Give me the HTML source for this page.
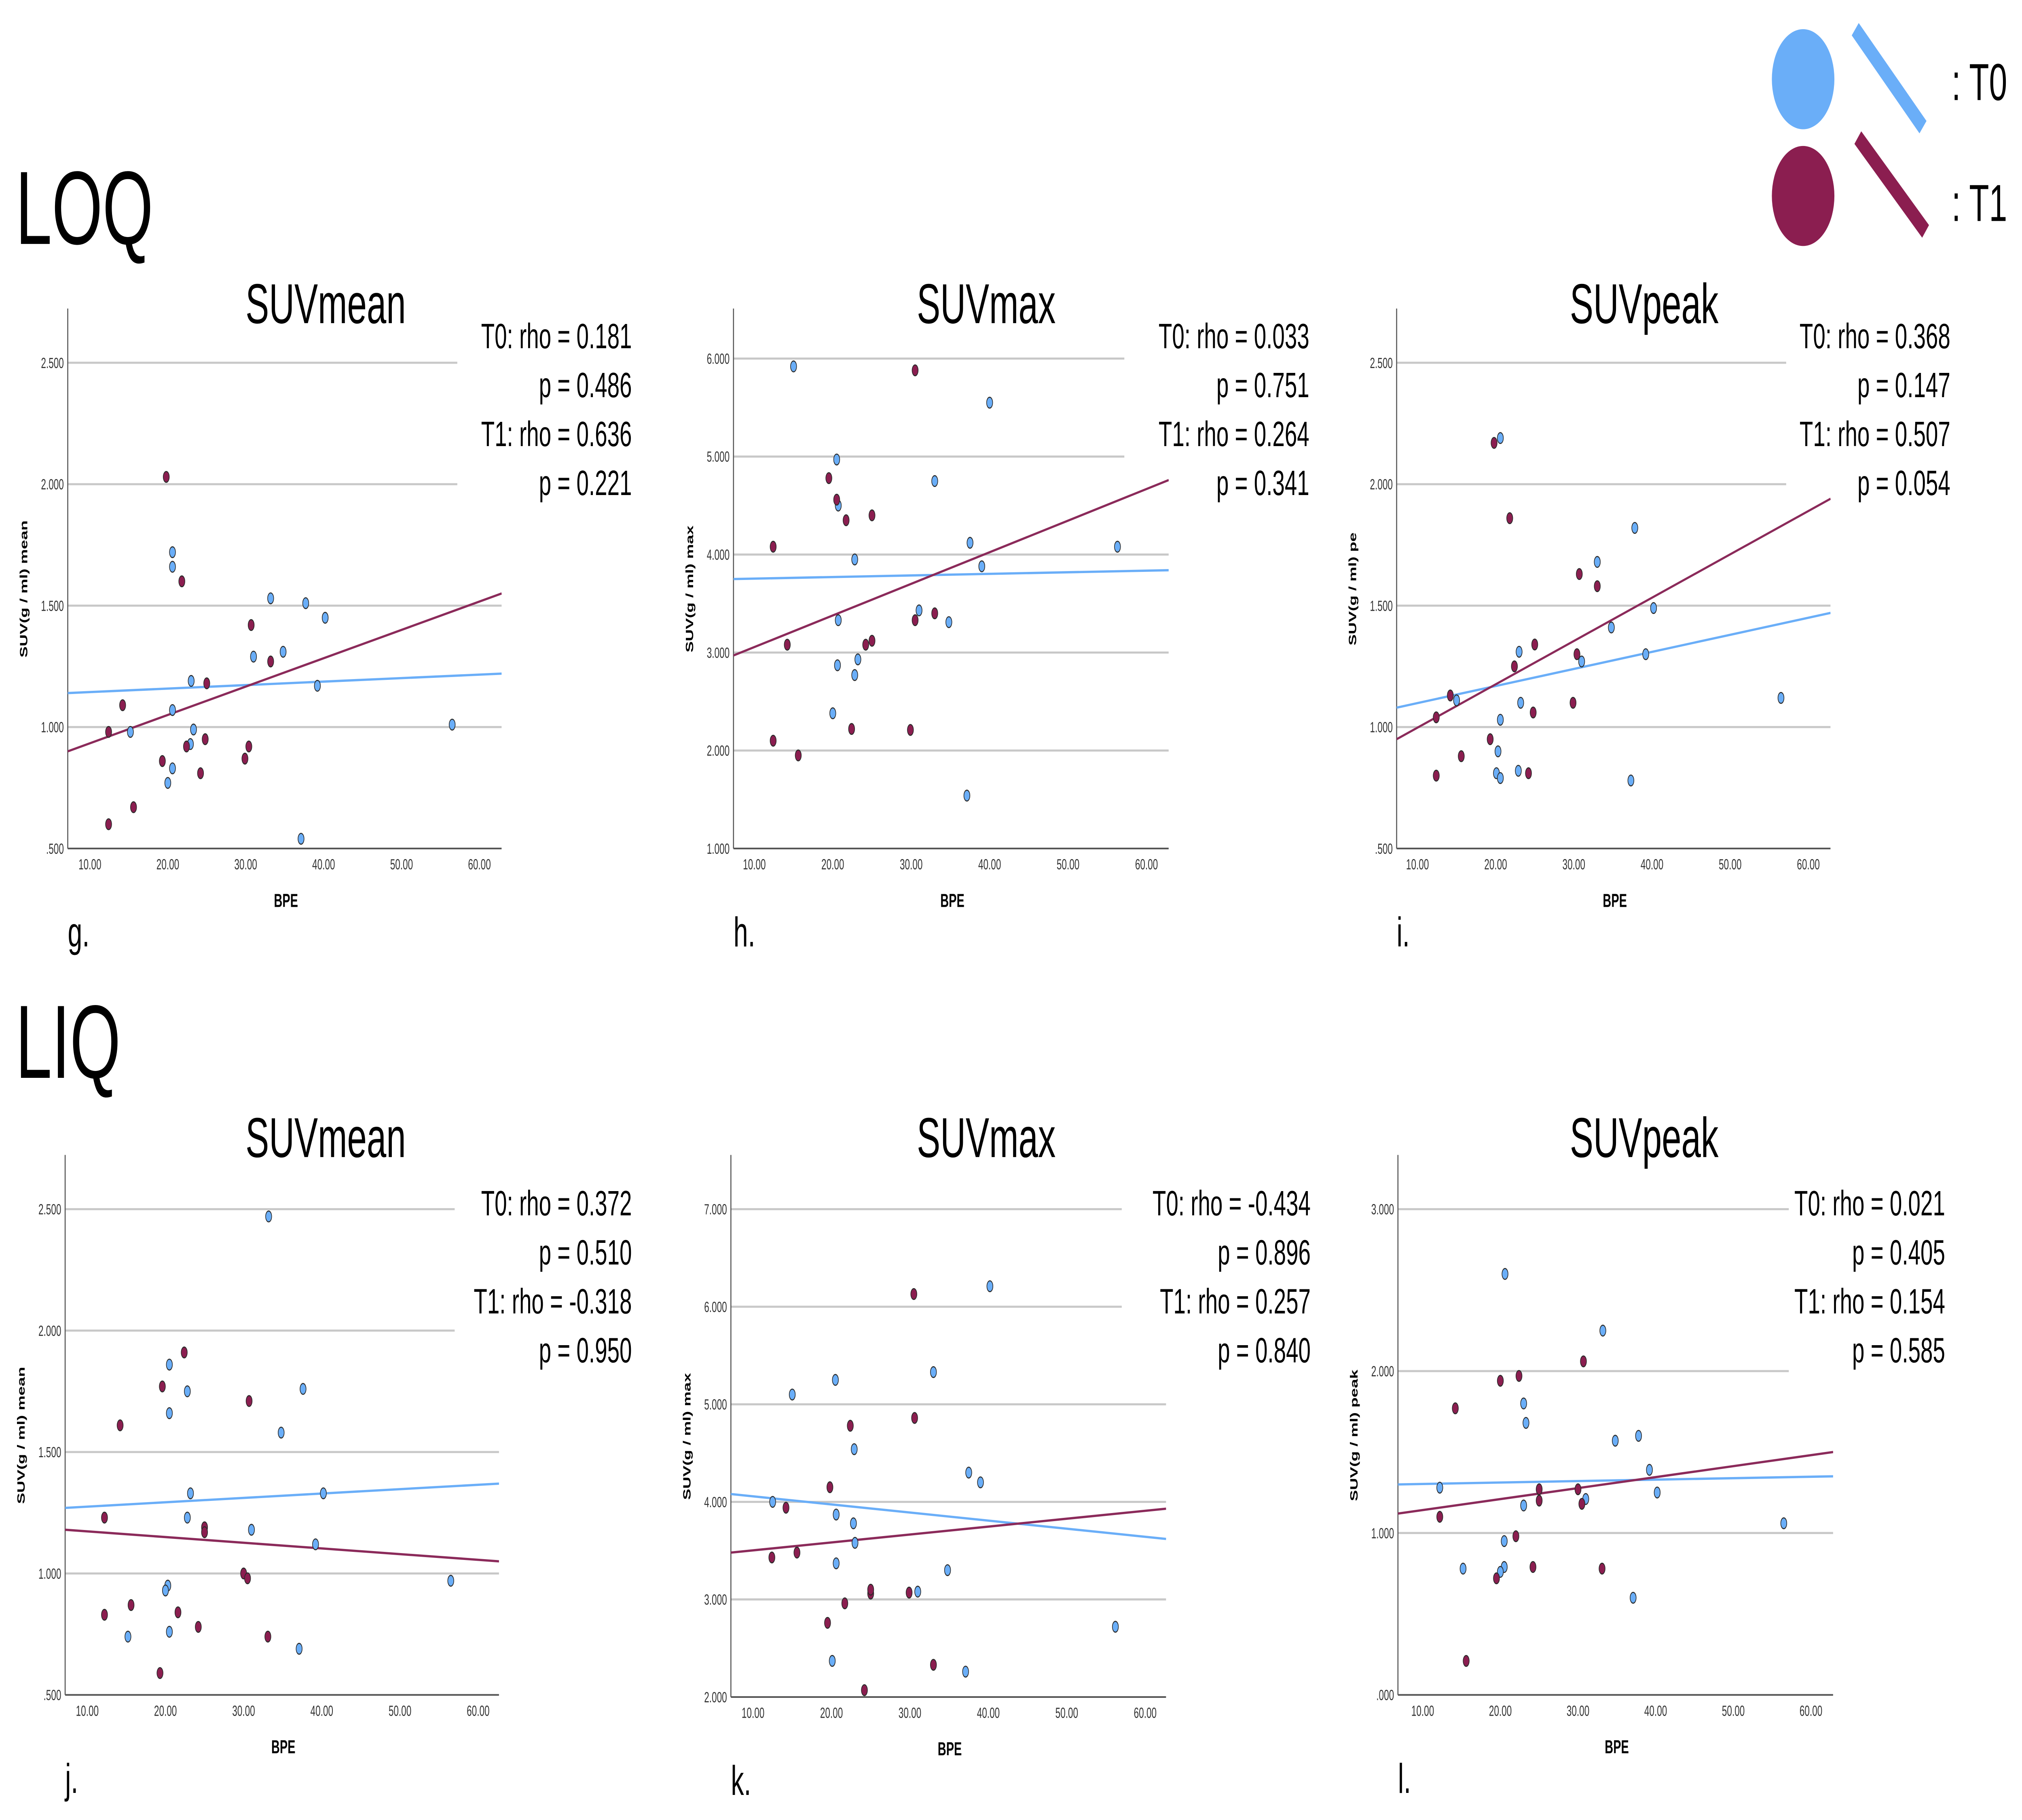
<!DOCTYPE html>
<html><head><meta charset="utf-8"><style>
html,body{margin:0;padding:0;background:#fff;width:100%;height:100%;overflow:hidden;}
svg{display:block;width:100vw;height:100vh;}
</style></head><body>
<svg id="fig" xmlns="http://www.w3.org/2000/svg" viewBox="0 0 1552 873" preserveAspectRatio="none" font-family="Liberation Sans, sans-serif">
<rect x="0" y="0" width="1552" height="873" fill="#fff"/>
<text x="12" y="117" font-size="50" fill="#000">LOQ</text>
<text x="12" y="517" font-size="50" fill="#000">LIQ</text>
<g>
<circle cx="1384" cy="38" r="24" fill="#6aaef8"/>
<line x1="1424" y1="14" x2="1476" y2="61" stroke="#6aaef8" stroke-width="8"/>
<text x="1498" y="48" font-size="25">: T0</text>
<circle cx="1384" cy="94" r="24" fill="#8b1e50"/>
<line x1="1426" y1="66" x2="1478" y2="111" stroke="#8b1e50" stroke-width="8"/>
<text x="1498" y="106" font-size="25">: T1</text>
</g>
</svg>
<script>
// ---- data (BPE, SUV) ----
const g_t0 = [[20.6,1.72],[20.6,1.66],[23,1.19],[33.2,1.53],[37.7,1.51],[40.2,1.45],[31,1.29],[34.8,1.31],[39.2,1.17],[20.6,1.07],[15.2,0.98],[23.3,0.99],[22.9,0.93],[20.6,0.83],[20,0.77],[37.1,0.54],[56.5,1.01]];
const g_t1 = [[19.8,2.03],[21.8,1.60],[30.7,1.42],[33.2,1.27],[25,1.18],[14.2,1.09],[12.4,0.98],[24.8,0.95],[30.4,0.92],[22.4,0.92],[19.3,0.86],[29.9,0.87],[24.2,0.81],[15.6,0.67],[12.4,0.60]];
const g_fit_t0 = [1.14,1.22];
const g_fit_t1 = [0.90,1.55];
const h_t0 = [[15,5.92],[20.5,4.97],[20.7,4.5],[33,4.75],[40,5.55],[37.5,4.12],[39,3.88],[22.8,3.95],[56.3,4.08],[20.7,3.33],[31,3.43],[34.8,3.31],[23.2,2.93],[22.8,2.77],[20.6,2.87],[20,2.38],[37.1,1.54]];
const h_t1 = [[30.5,5.88],[19.5,4.78],[20.5,4.56],[21.7,4.35],[25,4.4],[12.4,4.08],[14.2,3.08],[24.2,3.08],[25,3.12],[30.5,3.33],[33,3.4],[12.4,2.1],[15.6,1.95],[22.4,2.22],[29.9,2.21]];
const h_fit_t0 = [3.75,3.84];
const h_fit_t1 = [2.97,4.76];
const i_t0 = [[20.6,2.19],[37.8,1.82],[33,1.68],[40.2,1.49],[34.8,1.41],[39.2,1.3],[31,1.27],[23,1.31],[23.2,1.1],[15,1.11],[20.6,1.03],[20.3,0.9],[22.9,0.82],[20.1,0.81],[20.6,0.79],[37.3,0.78],[56.5,1.12]];
const i_t1 = [[19.8,2.17],[21.8,1.86],[30.7,1.63],[33,1.58],[25,1.34],[22.4,1.25],[30.4,1.3],[29.9,1.1],[24.8,1.06],[14.2,1.13],[12.4,1.04],[19.3,0.95],[15.6,0.88],[12.4,0.8],[24.2,0.81]];
const i_fit_t0 = [1.08,1.47];
const i_fit_t1 = [0.95,1.94];
const j_t0 = [[33.2,2.47],[20.5,1.86],[22.8,1.75],[20.5,1.66],[37.6,1.76],[34.8,1.58],[23.2,1.33],[40.2,1.33],[22.8,1.23],[31,1.18],[39.2,1.12],[20.3,0.95],[20,0.93],[20.5,0.76],[15.2,0.74],[37.1,0.69],[56.5,0.97]];
const j_t1 = [[22.4,1.91],[19.6,1.77],[30.7,1.71],[14.2,1.61],[25,1.19],[25,1.17],[30,1.0],[30.5,0.98],[12.2,1.23],[15.6,0.87],[12.2,0.83],[21.6,0.84],[24.2,0.78],[33.1,0.74],[19.3,0.59]];
const j_fit_t0 = [1.27,1.37];
const j_fit_t1 = [1.18,1.05];
const k_t0 = [[40.2,6.21],[33,5.33],[20.5,5.25],[15,5.1],[22.9,4.54],[37.5,4.3],[39,4.2],[20.6,3.87],[22.8,3.78],[12.5,4.0],[23,3.58],[20.6,3.37],[34.8,3.3],[31,3.08],[56.2,2.72],[20.1,2.37],[37.1,2.26]];
const k_t1 = [[30.5,6.13],[22.4,4.78],[30.6,4.86],[19.8,4.15],[14.2,3.94],[12.4,3.43],[15.6,3.48],[19.5,2.76],[21.7,2.96],[25,3.06],[25,3.1],[29.9,3.07],[33,2.33],[24.2,2.07]];
const k_fit_t0 = [4.08,3.62];
const k_fit_t1 = [3.48,3.93];
const l_t0 = [[20.6,2.6],[33.2,2.25],[23,1.8],[23.3,1.68],[37.8,1.6],[34.8,1.57],[39.2,1.39],[40.2,1.25],[31,1.21],[23,1.17],[20.5,0.95],[20.5,0.79],[20,0.76],[15.2,0.78],[37.1,0.6],[12.2,1.28],[56.5,1.06]];
const l_t1 = [[20,1.94],[22.4,1.97],[30.7,2.06],[14.2,1.77],[30,1.27],[30.5,1.18],[25,1.2],[25,1.27],[22,0.98],[12.2,1.1],[19.5,0.72],[24.2,0.79],[33.1,0.78],[15.6,0.21]];
const l_fit_t0 = [1.30,1.35];
const l_fit_t1 = [1.12,1.50];
const xTickLabels = ["10.00","20.00","30.00","40.00","50.00","60.00"];
const xTicks = [10,20,30,40,50,60];
const yTicksMean = [0.5,1,1.5,2,2.5];
const yTickLabelsMean = [".500","1.000","1.500","2.000","2.500"];
const yTicksMaxTop = [1,2,3,4,5,6];
const yTickLabelsMaxTop = ["1.000","2.000","3.000","4.000","5.000","6.000"];
const yTicksMaxBot = [2,3,4,5,6,7];
const yTickLabelsMaxBot = ["2.000","3.000","4.000","5.000","6.000","7.000"];
const yTicksPeakBot = [0,1,2,3];
const yTickLabelsPeakBot = [".000","1.000","2.000","3.000"];
const statsG = ["T0: rho = 0.181","p = 0.486","T1: rho = 0.636","p = 0.221"];
const statsH = ["T0: rho = 0.033","p = 0.751","T1: rho = 0.264","p = 0.341"];
const statsI = ["T0: rho = 0.368","p = 0.147","T1: rho = 0.507","p = 0.054"];
const statsJ = ["T0: rho = 0.372","p = 0.510","T1: rho = -0.318","p = 0.950"];
const statsK = ["T0: rho = -0.434","p = 0.896","T1: rho = 0.257","p = 0.840"];
const statsL = ["T0: rho = 0.021","p = 0.405","T1: rho = 0.154","p = 0.585"];

const NS = "http://www.w3.org/2000/svg";
const svg = document.getElementById('fig');
function mk(tag, attrs, parent){const e=document.createElementNS(NS,tag);for(const k in attrs)e.setAttribute(k,attrs[k]);parent.appendChild(e);return e;}

const panels = [
 {id:'g',title:'SUVmean',letter:'g.',ylab:'SUV(g / ml) mean',ax:52,ar:385,top:148,bot:407,x10:69,x60:368,yv:[0.5,2.5],yp:[407,174],ticks:yTicksMean,tl:yTickLabelsMean,t0:g_t0,t1:g_t1,f0:g_fit_t0,f1:g_fit_t1,stats:statsG,sx:485,sy:161,ty:155,tx:250,statB:240},
 {id:'h',title:'SUVmax',letter:'h.',ylab:'SUV(g / ml) max',ax:563,ar:897,top:148,bot:407,x10:579,x60:880,yv:[1,6],yp:[407,172],ticks:yTicksMaxTop,tl:yTickLabelsMaxTop,t0:h_t0,t1:h_t1,f0:h_fit_t0,f1:h_fit_t1,stats:statsH,sx:1005,sy:161,ty:155,tx:757,statB:240},
 {id:'i',title:'SUVpeak',letter:'i.',ylab:'SUV(g / ml) pe',ax:1072,ar:1405,top:148,bot:407,x10:1088,x60:1388,yv:[0.5,2.5],yp:[407,174],ticks:yTicksMean,tl:yTickLabelsMean,t0:i_t0,t1:i_t1,f0:i_fit_t0,f1:i_fit_t1,stats:statsI,sx:1497,sy:161,ty:155,tx:1262,statB:240},
 {id:'j',title:'SUVmean',letter:'j.',ylab:'SUV(g / ml) mean',ax:50,ar:383,top:554,bot:813,x10:67,x60:367,yv:[0.5,2.5],yp:[813,580],ticks:yTicksMean,tl:yTickLabelsMean,t0:j_t0,t1:j_t1,f0:j_fit_t0,f1:j_fit_t1,stats:statsJ,sx:485,sy:577,ty:555,tx:250,statB:655},
 {id:'k',title:'SUVmax',letter:'k.',ylab:'SUV(g / ml) max',ax:561,ar:895,top:554,bot:814,x10:578,x60:879,yv:[2,7],yp:[814,580],ticks:yTicksMaxBot,tl:yTickLabelsMaxBot,t0:k_t0,t1:k_t1,f0:k_fit_t0,f1:k_fit_t1,stats:statsK,sx:1006,sy:577,ty:555,tx:757,statB:655},
 {id:'l',title:'SUVpeak',letter:'l.',ylab:'SUV(g / ml) peak',ax:1073,ar:1407,top:554,bot:813,x10:1092,x60:1390,yv:[0,3],yp:[813,580],ticks:yTicksPeakBot,tl:yTickLabelsPeakBot,t0:l_t0,t1:l_t1,f0:l_fit_t0,f1:l_fit_t1,stats:statsL,sx:1493,sy:577,ty:555,tx:1262,statB:655}
];

panels.forEach(p=>{
  const X = v => p.x10 + (v-10)*(p.x60-p.x10)/50;
  const Y = v => p.yp[0] + (v-p.yv[0])*(p.yp[1]-p.yp[0])/(p.yv[1]-p.yv[0]);
  const Xinv = px => 10 + (px-p.x10)*50/(p.x60-p.x10);
  const g = mk('g',{},svg);
  
  
  p.ticks.forEach((t,idx)=>{
    const y=Y(t);
    const right = (y < p.statB+12) ? p.ar-34 : p.ar;
    if(idx>0){
      const gl=mk('line',{x1:p.ax,y1:y,x2:right,y2:y,stroke:'#c8c8c8','stroke-width':1},g);
      
      
    }
    const tl=mk('text',{x:p.ax-3,y:y+2.5,'font-size':7,'text-anchor':'end',fill:'#333'},g);
    
    
    tl.textContent=p.tl[idx];
  });
  const ya=mk('line',{x1:p.ax,y1:p.top,x2:p.ax,y2:p.bot,stroke:'#555','stroke-width':0.8},g);
  
  
  const xa=mk('line',{x1:p.ax,y1:p.bot,x2:p.ar,y2:p.bot,stroke:'#555','stroke-width':0.8},g);
  
  
  xTicks.forEach((t,idx)=>{
    const tl=mk('text',{x:X(t),y:p.bot+10,'font-size':7,'text-anchor':'middle',fill:'#333'},g);
    
    
    tl.textContent=xTickLabels[idx];
  });
  const xt=mk('text',{x:(p.ax+p.ar)/2+1,y:p.bot+28,'font-size':9,'font-weight':'bold','text-anchor':'middle'},g);
  
  
  xt.textContent='BPE';
  const cy=(p.top+p.bot)/2+5;
  const yt=mk('text',{x:0,y:0,'font-size':8,'font-weight':'bold','text-anchor':'middle',transform:`translate(${p.ax-31},${cy}) rotate(-90)`},g);
  
  
  yt.textContent=p.ylab;
  const ti=mk('text',{x:p.tx,y:p.ty,'font-size':27,'text-anchor':'middle'},g);
  
  
  ti.textContent=p.title;
  const le=mk('text',{x:p.ax,y:p.bot+47,'font-size':20},g);
  
  
  le.textContent=p.letter;
  p.stats.forEach((s,idx)=>{
    const st=mk('text',{x:p.sx,y:p.sy+idx*23.5+6,'font-size':17,'text-anchor':'end'},g);
    
    
    st.textContent=s;
  });
  const xl=Xinv(p.ax), xr=Xinv(p.ar);
  [[p.f0,'#6aaef8','fit-line-t0'],[p.f1,'#8b2a5a','fit-line-t1']].forEach(([f,c,n])=>{
    const l=mk('line',{x1:X(xl),y1:Y(f[0]),x2:X(xr),y2:Y(f[1]),stroke:c,'stroke-width':1.1},g);
    
    
  });
  [[p.t0,'#6aaef8','point-t0'],[p.t1,'#8b1e50','point-t1']].forEach(([arr,c,n])=>{
    arr.forEach(d=>{
      const pt=mk('ellipse',{cx:X(d[0]),cy:Y(d[1]),rx:2.3,ry:2.6,fill:c,stroke:'#2a2a2a','stroke-width':0.5},g);
      
      
    });
  });
});
</script>
</body></html>
